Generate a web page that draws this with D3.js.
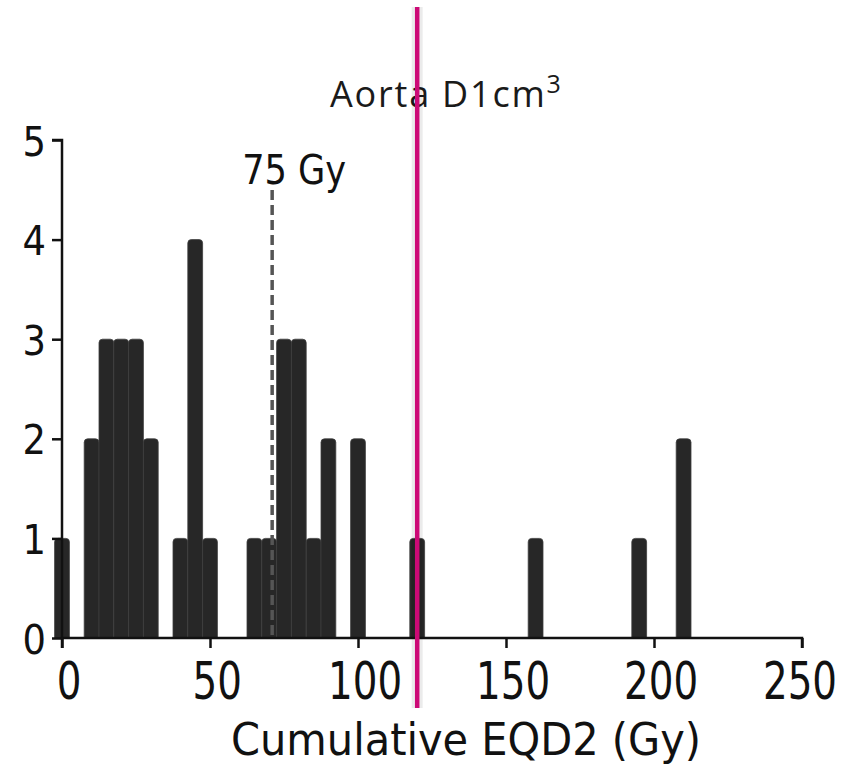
<!DOCTYPE html>
<html>
<head>
<meta charset="utf-8">
<script src="https://cdn.jsdelivr.net/npm/d3@7"></script>
<style>
  body { margin: 0; background: #fff; }
  .tick text { font-family: "DejaVu Sans Condensed", "Liberation Sans Narrow", sans-serif; fill: #111; }
</style>
</head>
<body>
<div id="chart"></div>
<script>
// dose bins (Gy, bin centre) and number of patients in each
const doseBins = [0, 10, 15, 20, 25, 30, 40, 45, 50, 65, 70, 75, 80, 85, 90, 100, 120, 160, 195, 210];
const counts   = [1, 2, 3, 3, 3, 2, 1, 4, 1, 1, 1, 3, 3, 1, 2, 2, 1, 1, 1, 2];
const binWidth = 5;

const xTicks = [0, 50, 100, 150, 200, 250];
const yTicks = [0, 1, 2, 3, 4, 5];

// reference lines
const limitLineDose = 71;      // dashed "75 Gy" line as drawn
const limitLabel = "75 Gy";
const markerDose = 120;        // magenta marker

const width = 850, height = 771;
const condensed = '"DejaVu Sans Condensed", "Liberation Sans Narrow", sans-serif';

const svg = d3.select('#chart').append('svg')
    .attr('width', width)
    .attr('height', height);

const x = d3.scaleLinear().domain([0, 250]).range([62, 802]);
const y = d3.scaleLinear().domain([0, 5]).range([638, 140]);

// clip so the rounded bar bottoms stay above the axis
svg.append('clipPath').attr('id', 'plot')
  .append('rect')
    .attr('x', 0).attr('y', 0)
    .attr('width', width).attr('height', y(0));

const bars = doseBins.map((d, i) => ({ dose: d, n: counts[i] }));

svg.append('g')
    .attr('clip-path', 'url(#plot)')
  .selectAll('rect')
  .data(bars)
  .join('rect')
    .attr('x', d => x(d.dose - binWidth / 2))
    .attr('width', x(binWidth) - x(0))
    .attr('y', d => y(d.n))
    .attr('height', d => y(0) - y(d.n) + 6)
    .attr('rx', 3.5)
    .style('fill', '#272727')
    .style('stroke', '#3d3d3d')
    .style('stroke-width', 0.8);

// dashed limit line
svg.append('line')
    .attr('x1', x(limitLineDose)).attr('x2', x(limitLineDose))
    .attr('y1', 190).attr('y2', y(0))
    .style('stroke', '#555')
    .style('stroke-width', 3.5)
    .style('stroke-dasharray', '10,5');

svg.append('text')
    .attr('x', x(limitLineDose) + 22)
    .attr('y', 184)
    .attr('text-anchor', 'middle')
    .attr('textLength', 104)
    .attr('lengthAdjust', 'spacingAndGlyphs')
    .style('font-family', condensed)
    .style('font-size', '41px')
    .style('fill', '#111')
    .text(limitLabel);

// axes
const xAxis = svg.append('g')
    .attr('transform', `translate(0,${y(0)})`)
    .call(d3.axisBottom(x).tickValues(xTicks).tickSize(10).tickPadding(6).tickFormat(d3.format('d')));
xAxis.select('.domain').attr('d', `M${x(0)},10V0H${x(250)}V10`);
// narrow the tick digits horizontally
xAxis.selectAll('.tick text')
    .attr('transform', 'scale(0.83,1)')
    .attr('dx', d => d === 250 ? -3 : 8)
    .attr('dy', 45)
    .style('font-size', '52px');

const yAxis = svg.append('g')
    .attr('transform', `translate(${x(0)},0)`)
    .call(d3.axisLeft(y).tickValues(yTicks).tickSize(10).tickPadding(6).tickFormat(d3.format('d')));
yAxis.select('.domain').attr('d', `M-10,${y(5)}H0V${y(0)}`);
yAxis.selectAll('.tick text')
    .attr('dy', '0.37em')
    .style('font-size', '41px');

svg.selectAll('.domain, .tick line')
    .style('stroke', '#111')
    .style('stroke-width', 2.5);

// axis title
svg.append('text')
    .attr('x', 466)
    .attr('y', 755)
    .attr('text-anchor', 'middle')
    .attr('textLength', 470)
    .attr('lengthAdjust', 'spacingAndGlyphs')
    .style('font-family', condensed)
    .style('font-size', '45px')
    .style('fill', '#111')
    .text('Cumulative EQD2 (Gy)');

// panel title
const title = svg.append('text')
    .attr('x', 330)
    .attr('y', 107)
    .style('font-family', '"Open Sans", "Noto Sans", sans-serif')
    .style('font-size', '36px')
    .style('letter-spacing', '1.8px')
    .style('fill', '#1a1a1a');
title.append('tspan').text('Aorta D1cm');
title.append('tspan').attr('dy', -14).style('font-size', '25px').text('3');

// magenta marker line on top
svg.append('line')
    .attr('x1', x(markerDose)).attr('x2', x(markerDose))
    .attr('y1', 7).attr('y2', 708)
    .style('stroke', '#000')
    .style('stroke-opacity', 0.08)
    .style('stroke-width', 11);
svg.append('line')
    .attr('x1', x(markerDose)).attr('x2', x(markerDose))
    .attr('y1', 7).attr('y2', 708)
    .style('stroke', '#cc0a76')
    .style('stroke-width', 4.5);
</script>
</body>
</html>
